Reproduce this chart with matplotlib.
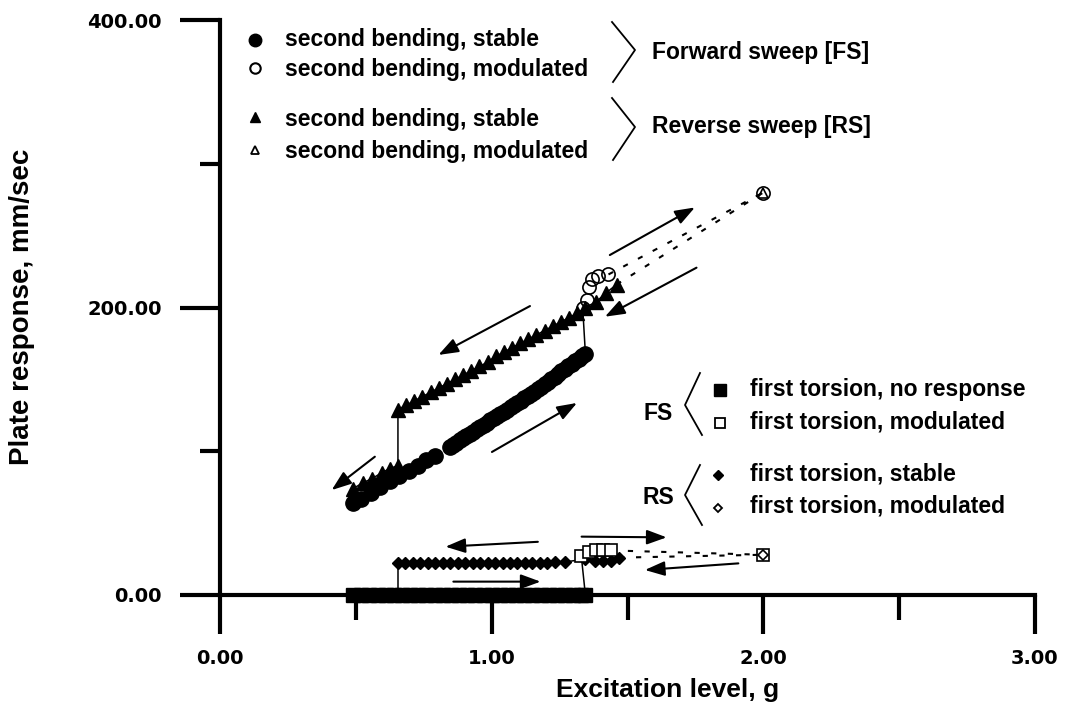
import matplotlib
matplotlib.use("Agg")
import matplotlib.pyplot as plt
from matplotlib.lines import Line2D

# second bending, forward sweep, stable (filled circles)
fs_bend_x = [0.49, 0.52, 0.555, 0.59, 0.625, 0.66, 0.695, 0.73, 0.76, 0.79,
             0.845, 0.857, 0.87, 0.882, 0.895, 0.907, 0.92, 0.932, 0.945, 0.957,
             0.97, 0.982, 0.995, 1.007, 1.02, 1.032, 1.045, 1.057, 1.07, 1.082,
             1.095, 1.107, 1.12, 1.132, 1.145, 1.157, 1.17, 1.182, 1.195, 1.207,
             1.22, 1.232, 1.245, 1.257, 1.27, 1.282, 1.295, 1.307, 1.32, 1.332, 1.345]
fs_bend_y = [64, 67, 71, 75, 79, 83, 86, 90, 94, 97,
             103, 104.5, 106, 107.5, 109, 110.5, 112, 113.5, 115.5, 117,
             118.5, 120, 121.5, 123, 124.5, 126, 127.5, 129, 130.5, 132,
             133.5, 135, 137, 138.5, 140, 141.5, 143.5, 145, 147, 148.5,
             150.5, 152, 154, 156, 157.5, 159.5, 161, 162.5, 164.5, 166, 168]

# second bending, forward sweep, modulated (open circles)
fs_bend_mod_x = [1.335, 1.35, 1.36, 1.37, 1.39, 1.43, 2.00]
fs_bend_mod_y = [200, 205, 214, 220, 222, 223, 280]

# second bending, reverse sweep, stable (filled triangles), in sweep order
rs_bend_x = [1.46, 1.42, 1.385, 1.345, 1.315, 1.285, 1.255, 1.225, 1.195, 1.165,
             1.135, 1.105, 1.075, 1.045, 1.015, 0.985, 0.955, 0.925, 0.895, 0.865,
             0.835, 0.805, 0.775, 0.745, 0.715, 0.685, 0.655,
             0.655, 0.625, 0.595, 0.56, 0.525, 0.49]
rs_bend_y = [216, 210, 204, 200, 196, 193, 190, 187, 184, 181,
             178, 175, 172, 169, 166, 162, 159, 156, 153, 150,
             147, 144, 141, 138, 135, 132, 129,
             90, 88, 85, 81, 78, 74]

# second bending, reverse sweep, modulated (open triangles)
rs_bend_mod_x = [2.00]
rs_bend_mod_y = [280]

# first torsion, forward sweep, no response (filled squares)
fs_tor_x = [0.49, 0.52, 0.55, 0.58, 0.61, 0.64, 0.67, 0.70, 0.73, 0.76,
            0.79, 0.82, 0.85, 0.88, 0.91, 0.94, 0.97, 1.00, 1.03, 1.06,
            1.09, 1.12, 1.15, 1.18, 1.21, 1.24, 1.27, 1.30, 1.33, 1.345]
fs_tor_y = [0, 0, 0, 0, 0, 0, 0, 0, 0, 0,
            0, 0, 0, 0, 0, 0, 0, 0, 0, 0,
            0, 0, 0, 0, 0, 0, 0, 0, 0, 0]

# first torsion, forward sweep, modulated (open squares)
fs_tor_mod_x = [1.33, 1.36, 1.385, 1.41, 1.44, 2.00]
fs_tor_mod_y = [27, 30, 31, 31, 31, 28]

# first torsion, reverse sweep, stable (filled diamonds), in sweep order
rs_tor_x = [1.47, 1.44, 1.41, 1.38, 1.345, 1.27, 1.232, 1.205, 1.177, 1.15,
            1.122, 1.095, 1.067, 1.04, 1.012, 0.985, 0.957, 0.93, 0.902, 0.875,
            0.847, 0.82, 0.792, 0.765, 0.737, 0.71, 0.682, 0.655]
rs_tor_y = [26, 24, 24, 24, 25, 23, 23, 22.5, 22.5, 22.5,
            22.5, 22.5, 22, 22, 22, 22, 22, 22, 22, 22,
            22, 22, 22, 22, 22, 22, 22, 22]

# first torsion, reverse sweep, modulated (open diamonds)
rs_tor_mod_x = [2.00]
rs_tor_mod_y = [28]

x_ticks = [0, 1, 2, 3]
y_ticks = [0, 200, 400]

W, H = 1065, 715
LABEL_FONT = ["Liberation Sans", "DejaVu Sans"]

fig = plt.figure(figsize=(W / 100, H / 100), dpi=100)
ax = fig.add_axes([220 / W, 1 - 595 / H, (1035 - 220) / W, (595 - 20) / H])
ax.set_xlim(0, 3)
ax.set_ylim(0, 400)

thin = dict(color="black", lw=1.1, zorder=3)
dash = dict(color="black", lw=1.5, ls=(0, (2.5, 5.5)), zorder=3)

# connecting lines
ax.plot(rs_bend_x, rs_bend_y, **thin)
ax.plot(rs_tor_x, rs_tor_y, **thin)
ax.plot([rs_tor_x[-1], rs_tor_x[-1]], [rs_tor_y[-1], 0], **thin)
ax.plot([fs_bend_x[-1], fs_bend_mod_x[0]], [fs_bend_y[-1], fs_bend_mod_y[0]], **thin)
ax.plot([fs_tor_x[-1], fs_tor_mod_x[0]], [fs_tor_y[-1], fs_tor_mod_y[0]], **thin)
ax.plot(fs_bend_mod_x[-2:], fs_bend_mod_y[-2:], **dash)
ax.plot([rs_bend_x[0], rs_bend_mod_x[0]], [rs_bend_y[0], rs_bend_mod_y[0]], **dash)
ax.plot(fs_tor_mod_x[-2:], fs_tor_mod_y[-2:], **dash)
ax.plot([rs_tor_x[0], rs_tor_mod_x[0]], [rs_tor_y[0], rs_tor_mod_y[0]], **dash)

# markers
mk = dict(ls="none", color="black", clip_on=False, zorder=5)
ax.plot(fs_bend_x, fs_bend_y, marker="o", ms=11, **mk)
ax.plot(rs_bend_x, rs_bend_y, marker="^", ms=9.5, **mk)
ax.plot(fs_bend_mod_x, fs_bend_mod_y, marker="o", ms=9.5, mfc="none", mew=1.2, **mk)
ax.plot(rs_bend_mod_x, rs_bend_mod_y, marker="^", ms=6.5, mfc="none", mew=1.2, **mk)
ax.plot(fs_tor_x, fs_tor_y, marker="s", ms=10, **mk)
ax.plot(rs_tor_x, rs_tor_y, marker="D", ms=6.5, **mk)
ax.plot(fs_tor_mod_x, fs_tor_mod_y, marker="s", ms=8, mfc="white", mew=1.2, **mk)
ax.plot(rs_tor_mod_x, rs_tor_mod_y, marker="D", ms=4.8, mfc="none", mew=1.2, **mk)

# sweep direction arrows (tail, head)
arrows = [
    ((1.435, 236.5), (1.748, 269.6)),
    ((1.754, 227.7), (1.417, 193.6)),
    ((1.141, 201.0), (0.804, 167.0)),
    ((1.001, 99.5), (1.314, 133.6)),
    ((0.570, 96.2), (0.411, 73.0)),
    ((1.17, 37.0), (0.83, 33.6)),
    ((0.859, 9.3), (1.18, 9.3)),
    ((1.331, 40.6), (1.644, 40.1)),
    ((1.908, 22.0), (1.564, 17.4)),
]
for tail, head in arrows:
    ax.annotate("", xy=head, xytext=tail, annotation_clip=False,
                arrowprops=dict(arrowstyle="-|>,head_length=0.6,head_width=0.22",
                                color="black", lw=1.5, shrinkA=0, shrinkB=0,
                                mutation_scale=20))

# axes styling
for side in ("top", "right"):
    ax.spines[side].set_visible(False)
for side in ("left", "bottom"):
    ax.spines[side].set_linewidth(3)
ax.set_xticks(x_ticks)
ax.set_xticklabels([f"{v:.2f}" for v in x_ticks])
ax.set_xticks([0.5, 1.5, 2.5], minor=True)
ax.set_yticks(y_ticks)
ax.set_yticklabels([f"{v:.2f}" for v in y_ticks])
ax.set_yticks([100, 300], minor=True)
ax.tick_params(axis="x", which="major", direction="out", length=28, width=3, pad=11)
ax.tick_params(axis="x", which="minor", direction="out", length=18, width=3)
ax.tick_params(axis="y", which="major", direction="out", length=29, width=3, pad=13)
ax.tick_params(axis="y", which="minor", direction="out", length=14.5, width=3)
for lab in ax.get_xticklabels() + ax.get_yticklabels():
    lab.set_fontweight("bold")
    lab.set_fontsize(14)
    lab.set_family("DejaVu Sans")

ax.set_xlabel("Excitation level, g", fontsize=19, fontweight="bold",
              family=LABEL_FONT, va="center")
ax.xaxis.set_label_coords((668 - 220) / 815, (595 - 690) / 575)
ax.set_ylabel("Plate response, mm/sec", fontsize=20, fontweight="bold",
              family=LABEL_FONT, va="center")
ax.yaxis.set_label_coords((22 - 220) / 815, (595 - 307) / 575)


def fx(px):
    return px / W


def fy(py):
    return 1 - py / H


def key(px, py, **style):
    fig.add_artist(Line2D([fx(px)], [fy(py)], transform=fig.transFigure,
                          color="black", ls="none", **style))


def txt(px, py, s, **kw):
    kw.setdefault("va", "baseline")
    fig.text(fx(px), fy(py), s, fontsize=16.5, fontweight="bold",
             family=LABEL_FONT, **kw)


def brace(pts):
    fig.add_artist(Line2D([fx(p[0]) for p in pts], [fy(p[1]) for p in pts],
                          transform=fig.transFigure, color="black", lw=1.3))


# upper legend (second bending)
key(255, 40, marker="o", ms=9)
key(255, 68, marker="o", ms=7.5, mfc="none", mew=1.5)
key(255, 117, marker="^", ms=6.5)
key(255, 150, marker="^", ms=6, mfc="none", mew=1.3)
txt(285, 46, "second bending, stable")
txt(285, 76, "second bending, modulated")
txt(285, 126, "second bending, stable")
txt(285, 158, "second bending, modulated")
brace([(612, 22), (635, 50), (613, 82)])
brace([(612, 98), (635, 127), (613, 160)])
txt(652, 52, "Forward sweep [FS]", va="center")
txt(652, 127, "Reverse sweep [RS]", va="center")

# lower legend (first torsion)
key(720, 390, marker="s", ms=8.5)
key(720, 423, marker="s", ms=7, mfc="none", mew=1.3)
key(718, 475, marker="D", ms=5.5)
key(718, 508, marker="D", ms=4.5, mfc="none", mew=1.3)
txt(750, 396, "first torsion, no response")
txt(750, 429, "first torsion, modulated")
txt(750, 480, "first torsion, stable")
txt(750, 513, "first torsion, modulated")
brace([(700, 373), (685, 405), (702, 435)])
brace([(700, 465), (685, 495), (702, 525)])
txt(658, 413, "FS", va="center", ha="center")
txt(658, 497, "RS", va="center", ha="center")

fig.savefig("out.png", dpi=100)
